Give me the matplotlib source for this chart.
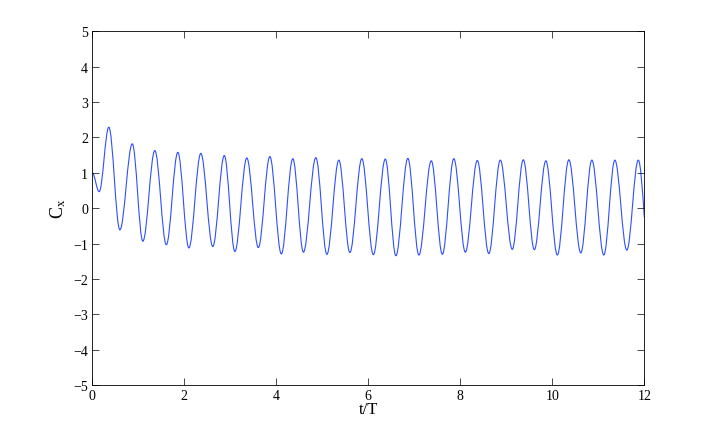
import matplotlib
matplotlib.use('Agg')
import matplotlib.pyplot as plt
from matplotlib.path import Path
from matplotlib.patches import PathPatch

# Extrema (t/T, C_x)
t_pts = [0.00, 0.15, 0.36, 0.60, 0.87, 1.10, 1.36, 1.61, 1.86, 2.10, 2.36, 2.62,
         2.87, 3.10, 3.36, 3.61, 3.86, 4.11, 4.36, 4.59, 4.86, 5.10, 5.36, 5.60,
         5.86, 6.11, 6.37, 6.60, 6.86, 7.10, 7.37, 7.61, 7.86, 8.11, 8.37, 8.62,
         8.87, 9.13, 9.37, 9.61, 9.86, 10.11, 10.36, 10.62, 10.86, 11.12, 11.36,
         11.62, 11.87, 12.00]
cx_pts = [1.00, 0.47, 2.29, -0.61, 1.82, -0.93, 1.63, -1.03, 1.58, -1.12, 1.55, -1.08,
          1.49, -1.22, 1.42, -1.11, 1.46, -1.29, 1.40, -1.24, 1.43, -1.30, 1.36, -1.25,
          1.40, -1.31, 1.39, -1.34, 1.41, -1.32, 1.34, -1.30, 1.40, -1.24, 1.35, -1.28,
          1.36, -1.16, 1.37, -1.17, 1.34, -1.32, 1.37, -1.26, 1.36, -1.32, 1.36,
          -1.18, 1.36, -0.25]

x_ticks = [0, 2, 4, 6, 8, 10, 12]
y_ticks = [-5, -4, -3, -2, -1, 0, 1, 2, 3, 4, 5]

plt.rcParams['font.family'] = ['Liberation Serif', 'DejaVu Serif']
plt.rcParams['mathtext.fontset'] = 'custom'
plt.rcParams['mathtext.rm'] = 'Liberation Serif'
plt.rcParams['mathtext.it'] = 'Liberation Serif:italic'

fig = plt.figure(figsize=(7.12, 4.35), dpi=100)
ax = fig.add_axes([0.1296, 0.112, 0.7753, 0.8138])

# smooth curve through extrema with cubic Bezier segments (horizontal tangents)
k = 0.36
verts = [(t_pts[0], cx_pts[0])]
codes = [Path.MOVETO]
n = len(t_pts)
for i in range(1, n):
    t0, v0 = t_pts[i - 1], cx_pts[i - 1]
    t1, v1 = t_pts[i], cx_pts[i]
    dt = t1 - t0
    c1 = (t0 + k * dt, v0)
    if i == n - 1:
        c2 = ((c1[0] + t1) / 2, (c1[1] + v1) / 2)
    else:
        c2 = (t1 - k * dt, v1)
    verts += [c1, c2, (t1, v1)]
    codes += [Path.CURVE4] * 3

patch = PathPatch(Path(verts, codes), fill=False, edgecolor='#2f4fff', lw=0.8)
ax.add_patch(patch)

ax.set_xlim(0, 12)
ax.set_ylim(-5, 5)
ax.set_xticks(x_ticks)
ax.set_yticks(y_ticks)
ax.tick_params(direction='in', top=True, right=True, length=5, width=0.5,
               labelsize=10, pad=3)
for s in ax.spines.values():
    s.set_linewidth(0.6)
ax.set_xlabel('t/T', fontsize=12, labelpad=-1)
ax.set_ylabel(r'$\mathrm{C_x}$', fontsize=13, labelpad=4)

fig.savefig('out.png', dpi=100)
